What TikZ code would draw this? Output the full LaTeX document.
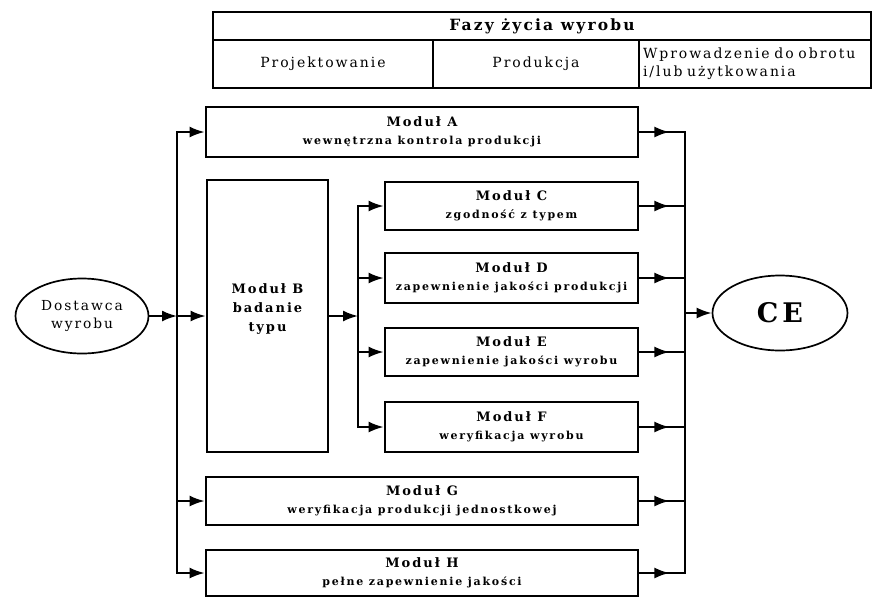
\documentclass[tikz,border=0pt]{standalone}
\usepackage{fontspec}
\setmainfont{DejaVu Serif}
\newfontfamily\fhead[LetterSpace=14]{DejaVu Serif}
\newfontfamily\fmod[LetterSpace=15]{DejaVu Serif}
\newfontfamily\fsub[LetterSpace=16]{DejaVu Serif}
\newfontfamily\fcell[LetterSpace=14]{DejaVu Serif}
\usetikzlibrary{shapes.geometric,arrows.meta}
\tikzset{
  cell/.style={draw, line width=2.8pt, inner sep=0pt, fill=white},
  modbox/.style={draw, line width=2.8pt, inner sep=0pt, align=center,
    font=\fontsize{12}{18}\selectfont},
  oval/.style={draw, ellipse, line width=1.7pt, inner sep=0pt, align=center},
  conn/.style={line width=2pt},
  arr/.style={-{Latex[length=15pt,width=11pt]}},
  bus/.style={line width=2pt, line cap=rect},
}
\newcommand{\mtitle}[1]{{\fmod\bfseries\fontsize{13}{18}\selectfont #1}}
\newcommand{\msub}[1]{{\fsub\bfseries\fontsize{11}{18}\selectfont #1}}
\begin{document}
\begin{tikzpicture}[x=1pt,y=-1pt]
\fill[white] (0,0) rectangle (876,598);
\useasboundingbox (0,0) rectangle (876,598);

% table of life phases
\node[cell, minimum width=658pt, minimum height=28pt] (hdr) at (542,26)
  {\fhead\bfseries\fontsize{15.5}{18}\selectfont Fazy życia wyrobu};
\node[cell, minimum width=220pt, minimum height=48pt] (c1) at (323,64)
  {\fcell\fontsize{14}{18}\selectfont Projektowanie};
\node[cell, minimum width=206pt, minimum height=48pt] (c2) at (536,64)
  {\fcell\fontsize{14}{18}\selectfont Produkcja};
\node[cell, text width=224pt, inner xsep=4pt, minimum height=48pt, align=left,
  font=\fcell\fontsize{14}{18}\selectfont] (c3) at (755,64)
  {Wprowadzenie do obrotu\\i/lub użytkowania};

% modules
\node[modbox, minimum width=432pt, minimum height=50pt] (A) at (422,132)
  {\mtitle{Moduł A}\\\msub{wewnętrzna kontrola produkcji}};
\node[modbox, minimum width=121pt, minimum height=272pt] (B) at (267.5,316) {};
\node[align=center, font=\fmod\bfseries\fontsize{13}{19}\selectfont] (Bt) at (267.5,309)
  {Moduł B\\badanie\\typu};
\node[modbox, minimum width=253pt, minimum height=48pt] (C) at (511.5,206)
  {\mtitle{Moduł C}\\\msub{zgodność z typem}};
\node[modbox, minimum width=253pt, minimum height=50pt] (D) at (511.5,278)
  {\mtitle{Moduł D}\\\msub{zapewnienie jakości produkcji}};
\node[modbox, minimum width=253pt, minimum height=48pt] (E) at (511.5,352)
  {\mtitle{Moduł E}\\\msub{zapewnienie jakości wyrobu}};
\node[modbox, minimum width=253pt, minimum height=50pt] (F) at (511.5,427)
  {\mtitle{Moduł F}\\\msub{weryfikacja wyrobu}};
\node[modbox, minimum width=432pt, minimum height=48pt] (G) at (422,501)
  {\mtitle{Moduł G}\\\msub{weryfikacja produkcji jednostkowej}};
\node[modbox, minimum width=432pt, minimum height=46pt] (H) at (422,573)
  {\mtitle{Moduł H}\\\msub{pełne zapewnienie jakości}};

% ellipses
\node[oval, minimum width=133pt, minimum height=75pt,
  font=\fcell\fontsize{13.8}{18}\selectfont] (dost) at (82,316) {Dostawca\\wyrobu};
\node[oval, minimum width=135pt, minimum height=75pt,
  font=\fmod\bfseries\fontsize{27}{30}\selectfont] (ce) at (780,313) {CE};

% bus coordinates
\coordinate (bus1) at (177,0);
\coordinate (bus2) at (358,0);
\coordinate (bus3) at (685,0);

% left bus
\draw[bus] (A.west -| bus1) -- (H.west -| bus1);
\foreach \n in {A,G,H} \draw[conn,arr] (\n.west -| bus1) -- (\n.west);
\draw[conn,arr] (dost.east) -- (dost.east -| bus1);
\draw[conn,arr] (dost.east -| bus1) -- (B.west |- dost.east);

% middle bus
\draw[conn,arr] (B.east) -- (B.east -| bus2);
\draw[bus] (C.west -| bus2) -- (F.west -| bus2);
\foreach \n in {C,D,E,F} \draw[conn,arr] (\n.west -| bus2) -- (\n.west);

% right bus
\draw[bus] (A.east -| bus3) -- (H.east -| bus3);
\foreach \n in {A,C,D,E,F,G,H} {
  \draw[conn] (\n.east) -- (\n.east -| bus3);
  \draw[conn,arr] (\n.east) -- ++(30,0);
}
\draw[conn,arr] (ce.west -| bus3) -- (ce.west);
\end{tikzpicture}
\end{document}
